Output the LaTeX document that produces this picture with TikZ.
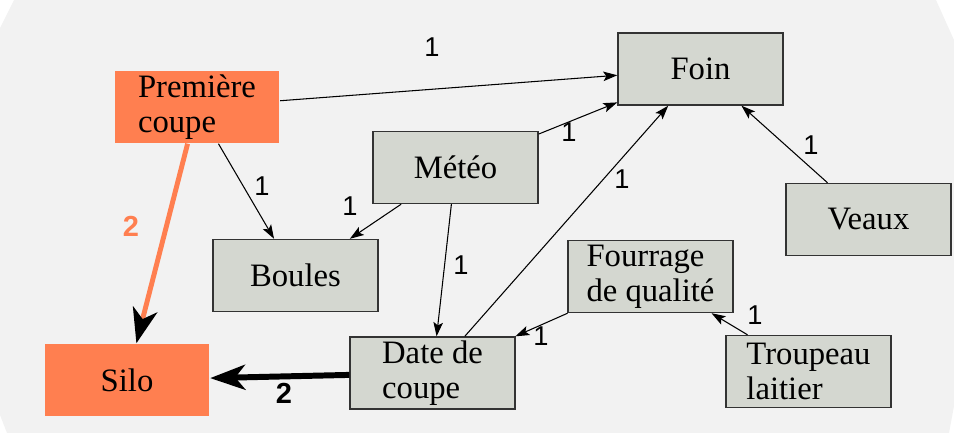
\documentclass[tikz,border=0pt]{standalone}
\usepackage{fontspec}
\setmainfont{Liberation Serif}
\newfontfamily\labelfont{Liberation Sans}
\usetikzlibrary{arrows.meta}

\definecolor{hotorange}{HTML}{FF7F50}
\definecolor{boxgrey}{HTML}{D4D7D0}
\definecolor{boxline}{HTML}{333333}
\definecolor{bggrey}{HTML}{F2F2F2}

\begin{document}
\begin{tikzpicture}[
    x=0.02cm, y=-0.02cm, % one unit is one pixel of the sketch, y going down
    % Styles for the boxes
    block/.style={rectangle, draw=boxline, line width=0.8pt, fill=boxgrey, minimum width=3.3cm, minimum height=1.44cm, inner sep=0pt, align=left, font=\fontsize{18.6}{20}\selectfont},
    hotblock/.style={ % Style for the orange boxes
        block,
        draw=none,
        fill=hotorange
    },
    % Styles for the lines
    line/.style={
        draw=black,
        line width=0.6pt,
        -{Stealth[length=2.8mm,width=1.9mm,inset=0.6mm]}
    },
    heavyline/.style={ % Style for the two thick arrows into the silo
        draw=black,
        line width=3.4pt,
        -{Stealth[length=7mm,width=5mm,inset=2mm,color=black]}
    },
    weight/.style={font=\fontsize{15.5}{16}\labelfont, inner sep=0pt},
    heavyweight/.style={font=\fontsize{16.5}{17}\labelfont\bfseries, inner sep=0pt}
]

\useasboundingbox (0,0) rectangle (954,433);
\fill[bggrey] (14,0) -- (936,0) -- (954,40) -- (954,406) -- (949,433) -- (7,433) -- (0,415) -- (0,28) -- cycle;

% Initialize a counter to name the weight labels
\newcounter{linkcounter}
\setcounter{linkcounter}{0}

% Draw a thin arrow between two boxes and put its weight 1 at the given place
\newcommand{\linknodes}[3]{
    \stepcounter{linkcounter}
    \path [line] (#1) -- (#2);
    \node [weight] (weight-\arabic{linkcounter}) at (#3) {1};
}

% The boxes
\node [hotblock] (premiere) at (197,107) {Première\\coupe};
\node [block] (foin) at (700.5,69) {Foin};
\node [block] (meteo) at (455.5,167.5) {Météo};
\node [block] (veaux) at (868.5,219.5) {Veaux};
\node [block] (boules) at (295.5,275.5) {Boules};
\node [block] (fourrage) at (650.5,276.5) {Fourrage\\de qualité};
\node [block] (date) at (432.5,373) {Date de\\coupe};
\node [block] (troupeau) at (808.5,371.5) {Troupeau\\laitier};
\node [hotblock] (silo) at (127,380) {Silo};

% Thin links with weight 1
\linknodes{premiere}{foin}{432,47};
\linknodes{premiere}{boules}{262,186};
\linknodes{meteo}{foin}{569,132};
\linknodes{meteo}{boules}{350,206};
\linknodes{meteo}{date}{461,265};
\linknodes{date}{foin}{622,179};
\linknodes{veaux}{foin}{811,145};
\linknodes{fourrage}{date}{541,336};
\linknodes{troupeau}{fourrage}{755,315};

% Thick links with weight 2
\path [heavyline, draw=hotorange, line width=2.8pt] (premiere) -- (silo);
\node [heavyweight, text=hotorange] (weight-orange) at (131,226) {2};
\path [heavyline] (date) -- (silo);
\node [heavyweight] (weight-black) at (284,393) {2};

\end{tikzpicture}
\end{document}
